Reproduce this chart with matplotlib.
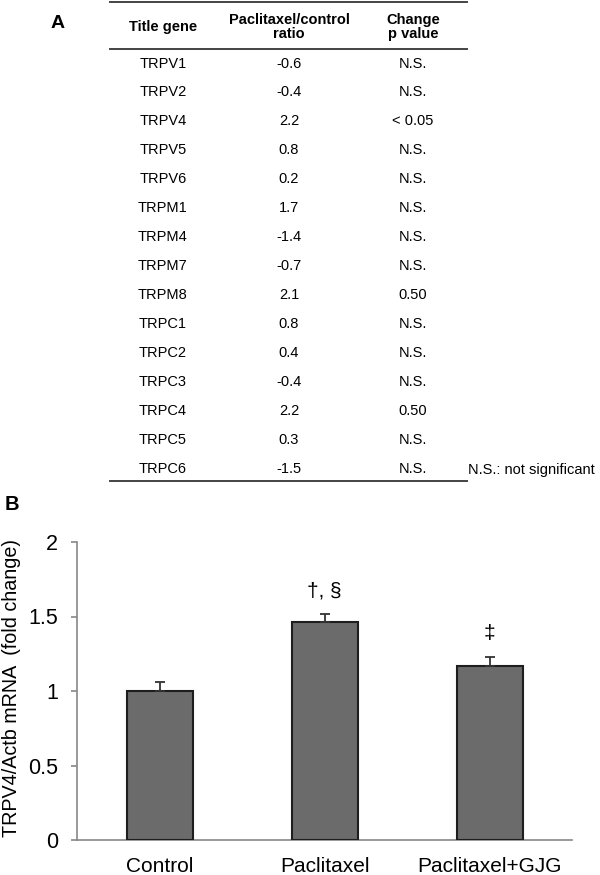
import matplotlib
matplotlib.use("Agg")
import matplotlib.pyplot as plt
from matplotlib.lines import Line2D

plt.rcParams['font.family'] = ['Liberation Sans', 'DejaVu Sans']

# === Panel A table data ===
genes = ["TRPV1", "TRPV2", "TRPV4", "TRPV5", "TRPV6", "TRPM1", "TRPM4", "TRPM7",
         "TRPM8", "TRPC1", "TRPC2", "TRPC3", "TRPC4", "TRPC5", "TRPC6"]
ratios = ["-0.6", "-0.4", "2.2", "0.8", "0.2", "1.7", "-1.4", "-0.7",
          "2.1", "0.8", "0.4", "-0.4", "2.2", "0.3", "-1.5"]
pvals = ["N.S.", "N.S.", "< 0.05", "N.S.", "N.S.", "N.S.", "N.S.", "N.S.",
         "0.50", "N.S.", "N.S.", "N.S.", "0.50", "N.S.", "N.S."]
headers = ["Title gene", "Paclitaxel/control\nratio", "Change\np value"]

# === Panel B bar data ===
groups = ["Control", "Paclitaxel", "Paclitaxel+GJG"]
fold = [1.00, 1.46, 1.17]
sem = [0.06, 0.06, 0.06]
marks = ["", "†, §", "‡"]

W, H = 600, 875
fig = plt.figure(figsize=(W / 100, H / 100), dpi=100)

# table drawn in pixel coordinates on an invisible axes
ta = fig.add_axes([0, 0, 1, 1])
ta.set_xlim(0, W)
ta.set_ylim(H, 0)
ta.axis('off')

col_x = [163, 289, 413]
ta.text(58, 23, "A", fontsize=14, fontweight='bold', ha='center', va='center')
for x, h in zip(col_x, headers):
    ta.text(x, 27, h, fontsize=10.5, fontweight='bold', ha='center', va='center',
            linespacing=1.0)
for y in [2, 49, 481]:
    ta.add_line(Line2D([110, 467], [y, y], color='#444444', lw=1.4))

row0, step = 63.5, 28.93
for i, (g, r, p) in enumerate(zip(genes, ratios, pvals)):
    y = row0 + i * step
    ta.text(col_x[0], y, g, fontsize=10.5, ha='center', va='center')
    ta.text(col_x[1], y, r, fontsize=10.5, ha='center', va='center')
    ta.text(col_x[2], y, p, fontsize=10.5, ha='center', va='center')
ta.text(468, row0 + 14 * step + 1, "N.S.: not significant", fontsize=10.5,
        ha='left', va='center')
ta.text(12, 505, "B", fontsize=14.5, fontweight='bold', ha='center', va='center')

# === Panel B bar chart ===
ax = fig.add_axes([77 / W, 35 / H, 495 / W, 298 / H])
ax.patch.set_visible(False)
xs = range(len(groups))
ax.bar(xs, fold, width=0.4, color='#6b6b6b', edgecolor='#1e1e1e', linewidth=1.5,
       yerr=[[0] * len(sem), sem], capsize=3.5,
       error_kw=dict(ecolor='#333333', elinewidth=1.3, capthick=1.3), zorder=3)
for x, v, e, m in zip(xs, fold, sem, marks):
    if m:
        ax.text(x, v + e + 0.09, m, fontsize=15, ha='center', va='bottom')

ax.set_xlim(-0.5, 2.5)
ax.set_ylim(0, 2)
ax.set_yticks([0, 0.5, 1, 1.5, 2])
ax.set_yticklabels(["0", "0.5", "1", "1.5", "2"])
ax.set_xticks(list(xs))
ax.set_xticklabels(groups)
ax.tick_params(axis='y', labelsize=15.5, length=4.5, width=1.2, color='#888888', pad=9)
ax.tick_params(axis='x', labelsize=15, length=0, pad=12)
for s in ['top', 'right']:
    ax.spines[s].set_visible(False)
for s in ['left', 'bottom']:
    ax.spines[s].set_color('#888888')
    ax.spines[s].set_linewidth(1.2)
ax.set_ylabel("TRPV4/Actb mRNA  (fold change)", fontsize=14.2)
ax.yaxis.set_label_coords(-0.113, 0.51)

plt.savefig("out.png", dpi=100)
